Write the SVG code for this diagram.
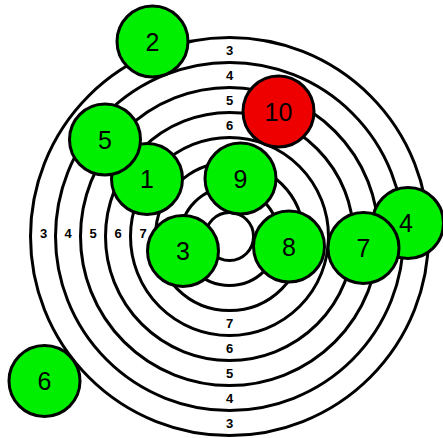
<svg xmlns="http://www.w3.org/2000/svg" width="443" height="438" viewBox="0 0 443 438">
<style>
.ring{fill:none;stroke:#000;stroke-width:3}
.rl{font-family:"Liberation Sans",Arial,sans-serif;font-size:13px;font-weight:bold;text-anchor:middle;fill:#000}
.n circle{fill:#00ee00;stroke:#000;stroke-width:3}
.n.red circle{fill:#ee0000}
.n text{font-family:"Liberation Sans",Arial,sans-serif;font-size:25px;text-anchor:middle;fill:#000}
</style>
<rect width="443" height="438" fill="#fff"/>
<g id="connectors">
<circle class="ring" cx="229.5" cy="236.5" r="199"/>
<circle class="ring" cx="229.5" cy="236.5" r="174"/>
<circle class="ring" cx="229.5" cy="236.5" r="149"/>
<circle class="ring" cx="229.5" cy="236.5" r="124"/>
<circle class="ring" cx="229.5" cy="236.5" r="99"/>
<circle class="ring" cx="229.5" cy="236.5" r="74"/>
<circle class="ring" cx="229.5" cy="236.5" r="49"/>
<circle class="ring" cx="229.5" cy="236.5" r="24"/>
<text class="rl" x="229.5" y="55">3</text>
<text class="rl" x="229.5" y="80">4</text>
<text class="rl" x="229.5" y="105">5</text>
<text class="rl" x="229.5" y="130">6</text>
<text class="rl" x="229.5" y="327.5">7</text>
<text class="rl" x="229.5" y="352.5">6</text>
<text class="rl" x="229.5" y="377.5">5</text>
<text class="rl" x="229.5" y="402.5">4</text>
<text class="rl" x="229.5" y="427.5">3</text>
<text class="rl" x="43.5" y="237.5">3</text>
<text class="rl" x="68" y="237.5">4</text>
<text class="rl" x="93" y="237.5">5</text>
<text class="rl" x="118" y="237.5">6</text>
<text class="rl" x="143" y="237.5">7</text>
</g>
<g id="node1" class="n"><circle cx="147" cy="179" r="35.5"/><text x="147" y="188">1</text></g>
<g id="node2" class="n"><circle cx="152.5" cy="41.5" r="35.5"/><text x="152.5" y="50.5">2</text></g>
<g id="node3" class="n"><circle cx="183" cy="251" r="35.5"/><text x="183" y="260">3</text></g>
<g id="node4" class="n"><circle cx="408" cy="223" r="35.5"/><text x="406" y="232">4</text></g>
<g id="node5" class="n"><circle cx="105" cy="139.5" r="35.5"/><text x="105" y="148.5">5</text></g>
<g id="node6" class="n"><circle cx="44.5" cy="381" r="35.5"/><text x="44.5" y="390">6</text></g>
<g id="node7" class="n"><circle cx="363.5" cy="248" r="35.5"/><text x="363.5" y="257">7</text></g>
<g id="node8" class="n"><circle cx="289" cy="246.5" r="35.5"/><text x="289" y="255.5">8</text></g>
<g id="node9" class="n"><circle cx="240.5" cy="178.5" r="35.5"/><text x="240.5" y="187.5">9</text></g>
<g id="node10" class="n red"><circle cx="278.5" cy="111.5" r="35.5"/><text x="278.5" y="120.5">10</text></g>
</svg>
